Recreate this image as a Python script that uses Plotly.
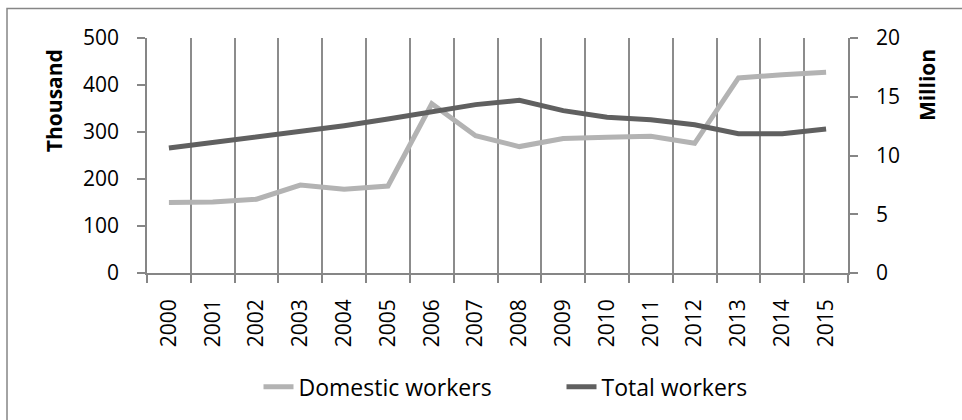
import plotly.graph_objects as go

years = [str(y) for y in range(2000, 2016)]
domestic_thousand = [150, 151, 157, 187, 178, 185, 360, 292, 269, 286, 289, 291, 276, 415, 422, 427]
total_million = [10.63, 11.1, 11.62, 12.1, 12.54, 13.1, 13.76, 14.33, 14.7, 13.82, 13.25, 13.05, 12.62, 11.86, 11.86, 12.26]

FONT = "Open Sans"
AXC = "#868686"

fig = go.Figure()
fig.add_trace(go.Scatter(x=years, y=domestic_thousand, name="Domestic workers", mode="lines",
                         line=dict(color="#b3b3b3", width=5), yaxis="y"))
fig.add_trace(go.Scatter(x=years, y=total_million, name="Total workers", mode="lines",
                         line=dict(color="#606060", width=5), yaxis="y2"))

PH = 234.5  # plot height px
PW = 701.0

fig.update_layout(
    width=962, height=420,
    margin=dict(l=147, r=114, t=38, b=147),
    paper_bgcolor="white", plot_bgcolor="white",
    font=dict(family=FONT, size=21, color="#000000"),
    xaxis=dict(type="category", tickson="boundaries", showgrid=True, gridcolor="#8c8c8c", gridwidth=1.5,
               showline=True, linecolor=AXC, linewidth=1.5, ticks="outside", ticklen=8, tickcolor=AXC,
               tickwidth=1.5, tickangle=-90, tickfont=dict(size=21), ticklabelstandoff=16,
               range=[-0.5, 15.5]),
    yaxis=dict(range=[0, 500], dtick=100, showgrid=False, zeroline=False, showline=True, linecolor=AXC,
               linewidth=1.5, ticks="outside", ticklen=8, tickcolor=AXC, tickwidth=1.5,
               tickfont=dict(size=21), ticklabelstandoff=14),
    yaxis2=dict(range=[0, 20], dtick=5, overlaying="y", side="right", showgrid=False, zeroline=False,
                showline=True, linecolor=AXC, linewidth=1.5, ticks="outside", ticklen=8, tickcolor=AXC,
                tickwidth=1.5, tickfont=dict(size=21), ticklabelstandoff=14),
    legend=dict(orientation="h", x=0.5 + 64 / PW, xanchor="center", y=-0.484, yanchor="middle",
                font=dict(size=23), entrywidth=258, traceorder="normal"),
    showlegend=True,
)

fig.add_annotation(text="<b>Thousand</b>", textangle=-90, xref="paper", yref="paper",
                   x=(54 - 147) / PW, y=(272.5 - 101) / PH, xanchor="center", yanchor="middle",
                   showarrow=False, font=dict(size=21))
fig.add_annotation(text="<b>Million</b>", textangle=-90, xref="paper", yref="paper",
                   x=(927 - 147) / PW, y=(272.5 - 85) / PH, xanchor="center", yanchor="middle",
                   showarrow=False, font=dict(size=21))

fig.add_shape(type="rect", xref="paper", yref="paper", x0=-0.1997, x1=1.2, y0=-0.8, y1=1.126,
              line=dict(color=AXC, width=1.5), fillcolor="rgba(0,0,0,0)", layer="below")

fig.write_html("out.html")
